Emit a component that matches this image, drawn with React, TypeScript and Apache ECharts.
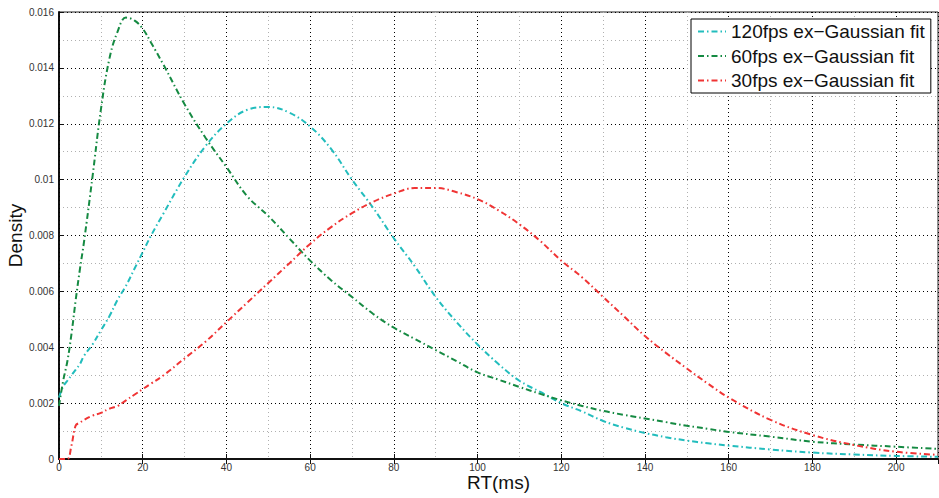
import React, { useEffect, useRef } from "react";
import * as echarts from "echarts";

// RT (ms) sample positions shared by all curves
const rtValues = [0, 1, 2, 3, 4, 5, 6, 8, 10, 12, 14, 16, 18, 20, 22, 25, 30, 35, 40, 45, 50, 55, 60, 65, 70, 75, 80, 85, 90, 95, 100, 105, 110, 115, 120, 125, 130, 135, 140, 145, 150, 155, 160, 170, 180, 190, 200, 210];

const density120 = [0.0022, 0.0026, 0.0028, 0.003, 0.0032, 0.0034, 0.0037, 0.0041, 0.0046, 0.0051, 0.0057, 0.0062, 0.0068, 0.0074, 0.008, 0.0088, 0.0101, 0.0112, 0.012, 0.0125, 0.0126, 0.0124, 0.0119, 0.0111, 0.01, 0.009, 0.0079, 0.0069, 0.0058, 0.0049, 0.0041, 0.0034, 0.0028, 0.0024, 0.002, 0.0017, 0.00136, 0.00112, 0.00093, 0.00078, 0.00066, 0.00056, 0.00048, 0.00034, 0.00023, 0.00016, 0.00011, 0.00008];

const density60 = [0.0019, 0.0028, 0.0035, 0.0045, 0.0057, 0.0068, 0.0078, 0.0101, 0.0125, 0.0143, 0.0153, 0.0158, 0.0157, 0.0154, 0.0149, 0.0141, 0.0127, 0.0115, 0.01045, 0.0094, 0.0087, 0.0079, 0.0071, 0.0064, 0.0058, 0.0052, 0.0047, 0.0043, 0.0039, 0.0035, 0.0031, 0.00284, 0.00258, 0.00233, 0.0021, 0.0019, 0.00172, 0.00158, 0.00145, 0.00132, 0.00119, 0.00108, 0.00097, 0.0008, 0.00062, 0.00052, 0.00044, 0.00036];

const density30 = [0, 0, 0, 0.0005, 0.0012, 0.0013, 0.0014, 0.00155, 0.00165, 0.0018, 0.0019, 0.0021, 0.0023, 0.0025, 0.0027, 0.003, 0.0036, 0.0042, 0.0049, 0.0056, 0.0063, 0.007, 0.0077, 0.0083, 0.0088, 0.0092, 0.0095, 0.0097, 0.0097, 0.00955, 0.0093, 0.0089, 0.0084, 0.0078, 0.0071, 0.0065, 0.0058, 0.0051, 0.0044, 0.0038, 0.00324, 0.0027, 0.0022, 0.0014, 0.00086, 0.0005, 0.00026, 0.00015];

const seriesNames = ["120fps ex\u2212Gaussian fit", "60fps ex\u2212Gaussian fit", "30fps ex\u2212Gaussian fit"];
const seriesColors = ["#22bdbd", "#158a42", "#f03434"];
const seriesValues = [density120, density60, density30];

const FONT = "'Liberation Sans', Arial, Helvetica, sans-serif";

export default function App() {
  const ref = useRef<HTMLDivElement>(null);
  useEffect(() => {
    if (!ref.current) return;
    const chart = echarts.init(ref.current, undefined, { renderer: "svg" });
    const dash = [6, 3, 1.5, 3];
    chart.setOption({
      animation: false,
      backgroundColor: "#ffffff",
      textStyle: { fontFamily: FONT },
      grid: {
        left: 59,
        right: 1,
        top: 12,
        bottom: 39,
        containLabel: false,
        outerBoundsMode: "none",
        show: true,
        borderColor: "#222",
        borderWidth: 1,
        backgroundColor: "transparent",
      },
      legend: {
        orient: "vertical",
        left: 691,
        top: 19,
        padding: [3, 6, 3, 6],
        itemGap: 5.5,
        itemWidth: 28,
        itemHeight: 14,
        backgroundColor: "#ffffff",
        borderColor: "#000",
        borderWidth: 1,
        borderRadius: 0,
        itemStyle: { opacity: 0 },
        textStyle: { fontSize: 19, color: "#111", fontFamily: FONT },
        data: seriesNames,
      },
      xAxis: [
        {
          type: "value",
          position: "bottom",
          min: 0,
          max: 210,
          interval: 20,
          name: "RT(ms)",
          nameLocation: "middle",
          nameGap: 14,
          nameMoveOverlap: false,
          nameTextStyle: { fontSize: 19, color: "#111", fontFamily: FONT },
          axisLine: { show: true, onZero: false, lineStyle: { color: "#111", width: 2 } },
          axisTick: { show: true, inside: true, length: 5, lineStyle: { color: "#111" } },
          axisLabel: { margin: 3, fontSize: 10, color: "#333", showMaxLabel: false, fontFamily: FONT },
          splitLine: { show: true, lineStyle: { color: "#000", width: 1, type: [1, 3] } },
          z: 3,
        },
        {
          type: "value",
          position: "top",
          min: 0,
          max: 210,
          interval: 20,
          axisLine: { show: false },
          axisTick: { show: true, inside: true, length: 5, lineStyle: { color: "#111" } },
          axisLabel: { show: false },
          splitLine: { show: false },
        },
        {
          type: "value",
          position: "bottom",
          min: 0,
          max: 210,
          interval: 10,
          axisLine: { show: false },
          axisTick: { show: false },
          axisLabel: { show: false },
          splitLine: { show: true, lineStyle: { color: "#b0b0b0", width: 1, type: [1, 3] } },
          z: 1,
        },
      ],
      yAxis: {
        type: "value",
        min: 0,
        max: 0.016,
        interval: 0.002,
        name: "Density",
        nameLocation: "middle",
        nameGap: 34,
        nameMoveOverlap: false,
        nameTextStyle: { fontSize: 19, color: "#111", fontFamily: FONT },
        axisLine: { show: true, onZero: false, lineStyle: { color: "#111", width: 2 } },
        axisTick: { show: true, inside: true, length: 5, lineStyle: { color: "#111" } },
        axisLabel: { margin: 5, fontSize: 10, color: "#333", fontFamily: FONT },
        splitLine: { show: true, lineStyle: { color: "#000", width: 1, type: [1, 3] } },
        minorTick: { show: false, splitNumber: 2 },
        minorSplitLine: { show: true, lineStyle: { color: "#b0b0b0", width: 1, type: [1, 3] } },
      },
      series: seriesValues.map((vals, i) => ({
        name: seriesNames[i],
        type: "line",
        xAxisIndex: 0,
        data: rtValues.map((x, k) => [x, vals[k]]),
        smooth: 0.4,
        symbol: "none",
        showSymbol: false,
        color: seriesColors[i],
        lineStyle: { color: seriesColors[i], width: 2, type: dash },
        z: 5,
      })),
    });
    return () => chart.dispose();
  }, []);
  return (
    <div
      ref={ref}
      style={{ position: "absolute", left: 0, top: 0, width: 939, height: 498 }}
    />
  );
}
